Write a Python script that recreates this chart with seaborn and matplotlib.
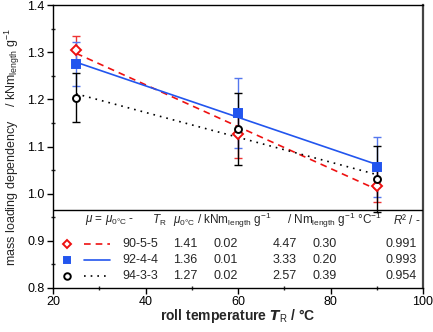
import numpy as np
import pandas as pd
import matplotlib
matplotlib.use("Agg")
import matplotlib.pyplot as plt
import seaborn as sns

# ---- data ----
temps = [25, 60, 90]
series = ["90-5-5", "92-4-4", "94-3-3"]
vals_905 = [1.305, 1.127, 1.017]
err_905 = [0.030, 0.052, 0.035]
vals_924 = [1.275, 1.171, 1.057]
err_924 = [0.047, 0.074, 0.064]
vals_943 = [1.204, 1.137, 1.031]
err_943 = [0.052, 0.076, 0.070]
mu0 = ["1.41", "1.36", "1.27"]
mu0_err = ["0.02", "0.01", "0.02"]
slope = ["4.47", "3.33", "2.57"]
slope_err = ["0.30", "0.20", "0.39"]
r2 = ["0.991", "0.993", "0.954"]
xticks = [20, 40, 60, 80, 100]
yticks = [0.8, 0.9, 1.0, 1.1, 1.2, 1.3, 1.4]

sns.set_theme(style="ticks")
plt.rcParams['font.family'] = ['Liberation Sans', 'DejaVu Sans']
plt.rcParams['mathtext.fontset'] = 'custom'
plt.rcParams['mathtext.rm'] = 'Liberation Sans'
plt.rcParams['mathtext.it'] = 'Liberation Sans:italic'
plt.rcParams['mathtext.bf'] = 'Liberation Sans:bold'

df = pd.DataFrame({
    "T": temps * 3,
    "val": vals_905 + vals_924 + vals_943,
    "err": err_905 + err_924 + err_943,
    "series": np.repeat(series, 3),
})

styles = {
    "90-5-5": dict(color="#ee1111", marker="D", mfc="white", ls=(0, (4, 3)), ms=4.8),
    "92-4-4": dict(color="#2255ee", marker="s", mfc="#2255ee", ls="-", ms=5.2),
    "94-3-3": dict(color="black", marker="o", mfc="white", ls=(0, (1, 3)), ms=5.0),
}
ecol = {"90-5-5": "#ee3333", "92-4-4": "#5577ee", "94-3-3": "black"}

fig = plt.figure(figsize=(4.33, 3.32), dpi=100)
ax = fig.add_axes([0.1224, 0.1334, 0.977 - 0.1224, 0.984 - 0.1334])

for s in series:
    d = df[df.series == s]
    st = styles[s]
    ax.errorbar(d["T"], d["val"], yerr=d["err"], fmt="none", ecolor=ecol[s],
                elinewidth=1.0, capsize=3, capthick=1.0, zorder=2)
    sns.regplot(data=d, x="T", y="val", ax=ax, ci=None, scatter=False, truncate=True,
                line_kws=dict(color=st["color"], lw=1.2, ls=st["ls"], zorder=3))
    ax.plot(d["T"], d["val"], ls="none", marker=st["marker"], ms=st["ms"],
            mfc=st["mfc"], mec=st["color"], mew=1.4, zorder=4)

ax.set_xlim(20, 100)
ax.set_ylim(0.8, 1.4)
ax.set_xticks(xticks)
ax.set_yticks(yticks)
ax.set_xticklabels([str(t) for t in xticks])
ax.set_yticklabels([f"{t:.1f}" for t in yticks])
ax.xaxis.set_minor_locator(matplotlib.ticker.MultipleLocator(10))
ax.yaxis.set_minor_locator(matplotlib.ticker.MultipleLocator(0.05))
ax.tick_params(which="major", direction="out", length=4, width=1, labelsize=9, colors="black", pad=2)
ax.tick_params(which="minor", direction="inout", length=3, width=1)
for sp in ax.spines.values():
    sp.set_visible(True)
    sp.set_color("black")
    sp.set_linewidth(1.0)
ax.spines["right"].set_linewidth(1.6)
ax.spines["right"].set_color("#444444")

ax.set_xlabel(r"roll temperature $\mathbfit{T}_\mathrm{R}$ / °C", fontsize=10, fontweight="bold", labelpad=-1)
ax.set_ylabel(r"mass loading dependency    / kNm$_\mathrm{length}$ g$^{-1}$", fontsize=9, labelpad=4)

# legend table
ax.axhline(0.966, color="black", lw=1.0, zorder=5)
fs = 9
hy = 0.943
ax.text(26.9, hy, r"$\mu$ = $\mu_\mathrm{0°C}$ -", fontsize=8.5, va="center", ha="left")
ax.text(41.4, hy, r"$T_\mathrm{R}$", fontsize=8.5, va="center", ha="left")
ax.text(46.0, hy, r"$\mu_\mathrm{0°C}$ / kNm$_\mathrm{length}$ g$^{-1}$", fontsize=8.5, va="center", ha="left")
ax.text(70.6, hy, r"/ Nm$_\mathrm{length}$ g$^{-1}$ °C$^{-1}$", fontsize=8.5, va="center", ha="left")
ax.text(93.5, hy, r"$R$² / -", fontsize=8.5, va="center", ha="left")

row_y = [0.893, 0.859, 0.824]
for i, s in enumerate(series):
    st = styles[s]
    y = row_y[i]
    ax.plot([23.0], [y], ls="none", marker=st["marker"], ms=st["ms"] - 0.3,
            mfc=st["mfc"], mec=st["color"], mew=1.4)
    ax.plot([26.7, 32.3], [y, y], color=st["color"], lw=1.2, ls=st["ls"])
    ax.text(34.9, y, s, fontsize=fs, va="center", ha="left")
    ax.text(46.0, y, mu0[i], fontsize=fs, va="center", ha="left")
    ax.text(54.6, y, mu0_err[i], fontsize=fs, va="center", ha="left")
    ax.text(67.4, y, slope[i], fontsize=fs, va="center", ha="left")
    ax.text(76.2, y, slope_err[i], fontsize=fs, va="center", ha="left")
    ax.text(98.7, y, r2[i], fontsize=fs, va="center", ha="right")

fig.savefig("out.png", dpi=100)
